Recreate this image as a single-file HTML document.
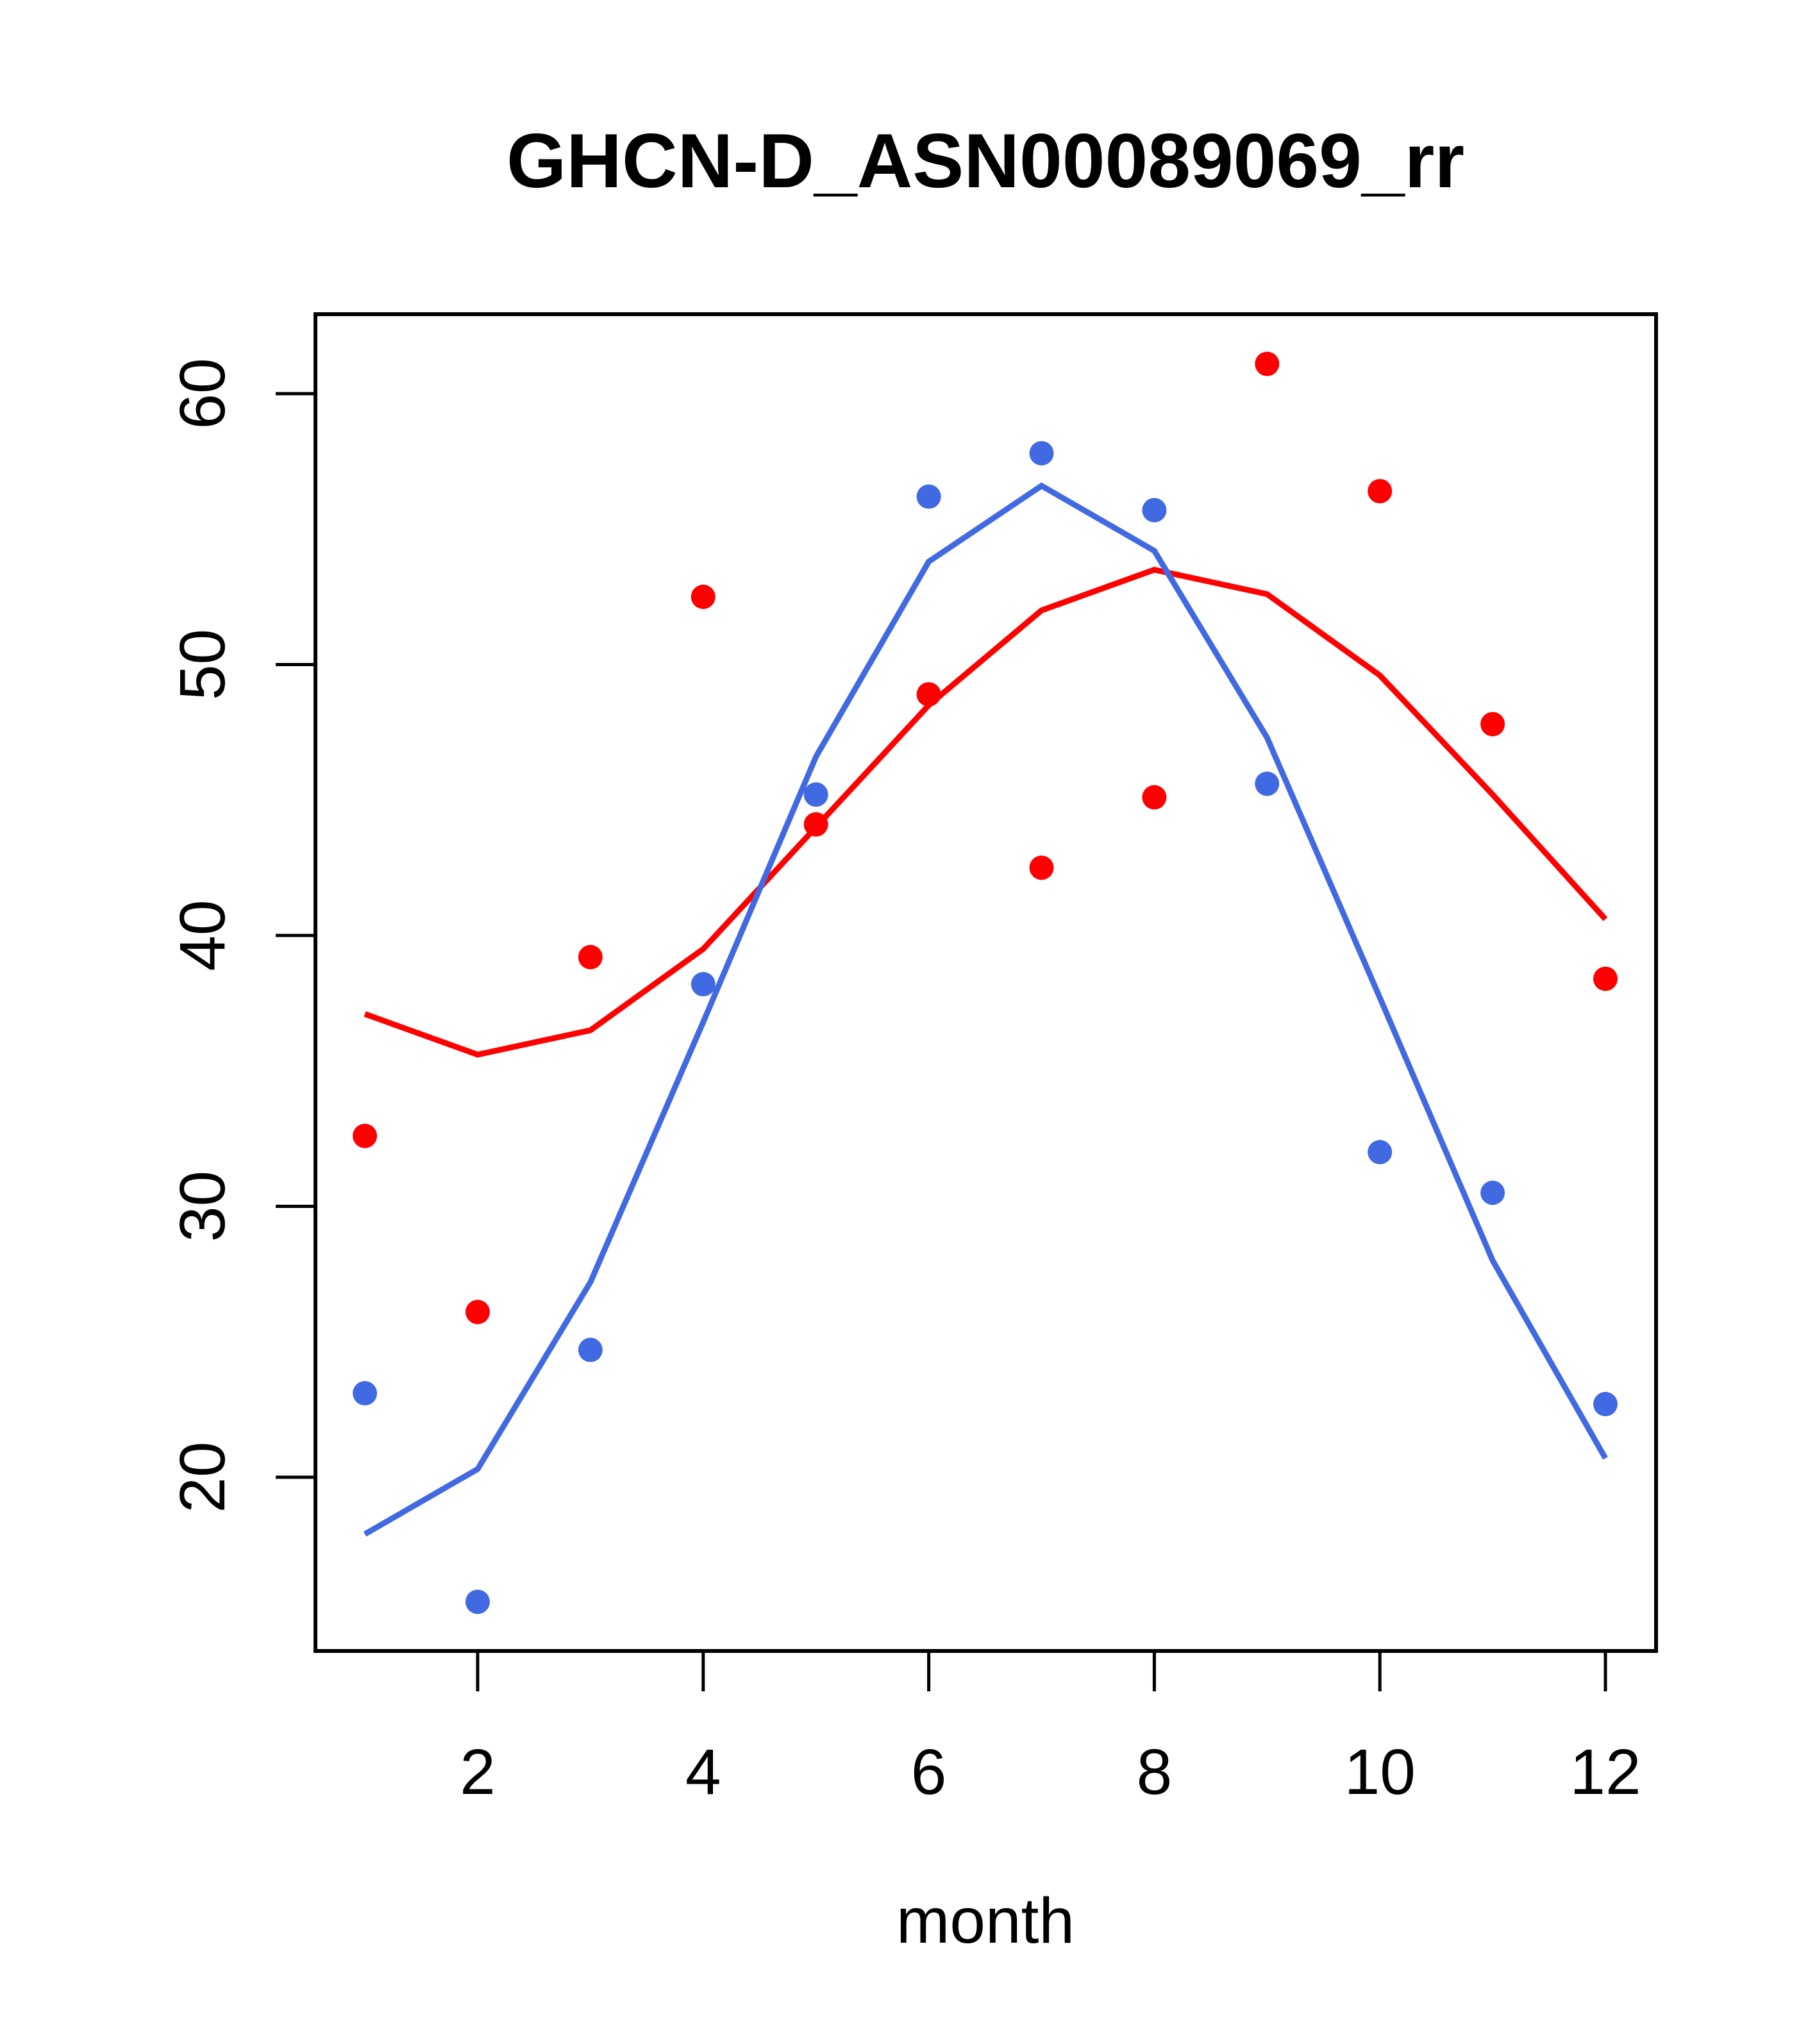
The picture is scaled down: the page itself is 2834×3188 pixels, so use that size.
<!DOCTYPE html>
<html><head><meta charset="utf-8"><style>body{margin:0;background:#fff}svg{display:block}</style></head>
<body>
<svg width="2834" height="3188" xmlns="http://www.w3.org/2000/svg" font-family="Liberation Sans, Arial, sans-serif">
<rect width="2834" height="3188" fill="#fff"/>
<text x="1537" y="292" font-size="120" font-weight="bold" text-anchor="middle">GHCN-D_ASN00089069_rr</text>
<rect x="492" y="490" width="2091" height="2085" fill="none" stroke="#000" stroke-width="6"/>
<text x="1537" y="3030" font-size="100" text-anchor="middle">month</text>
<g id="axes"></g>
<g id="marks"></g>
</svg>
<script>
const months = [1,2,3,4,5,6,7,8,9,10,11,12];
const redPoints = [32.6,26.1,39.2,52.5,44.1,48.9,42.5,45.1,61.1,56.4,47.8,38.4];
const redLine = [37.1,35.6,36.5,39.5,44.0,48.5,52.0,53.5,52.6,49.6,45.2,40.6];
const bluePoints = [23.1,15.4,24.7,38.2,45.2,56.2,57.8,55.7,45.6,32.0,30.5,22.7];
const blueLine = [17.9,20.3,27.2,36.8,46.6,53.8,56.6,54.2,47.3,37.7,28.0,20.7];
const xTicks = [2,4,6,8,10,12];
const yTicks = [20,30,40,50,60];

const NS = 'http://www.w3.org/2000/svg';
function X(m){ return 745 + (m-2)*175.9; }
function Y(v){ return 2304 - (v-20)*42.25; }
function mk(tag, attrs, parent){ const e=document.createElementNS(NS,tag); for(const k in attrs) e.setAttribute(k,attrs[k]); parent.appendChild(e); return e; }
const axes=document.getElementById('axes'), marks=document.getElementById('marks');
xTicks.forEach(t=>{
  const l=mk('line',{x1:X(t),x2:X(t),y1:2575,y2:2638,stroke:'#000','stroke-width':5},axes);
  
  
  const tx=mk('text',{x:X(t),y:2798,'font-size':100,'text-anchor':'middle'},axes);
  tx.textContent=t;
  
  
});
yTicks.forEach(t=>{
  const l=mk('line',{x1:430,x2:492,y1:Y(t),y2:Y(t),stroke:'#000','stroke-width':5},axes);
  
  
  const tx=mk('text',{x:0,y:0,'font-size':100,'text-anchor':'middle',transform:'translate(350,'+Y(t)+') rotate(-90)'},axes);
  tx.textContent=t;
  
  
});
function line(vals,color,name){
  const p=mk('polyline',{points:months.map((m,i)=>X(m)+','+Y(vals[i])).join(' '),fill:'none',stroke:color,'stroke-width':9},marks);
  
  
}
function pts(vals,color,name){
  months.forEach((m,i)=>{
    const c=mk('circle',{cx:X(m),cy:Y(vals[i]),r:19,fill:color},marks);
    
    
  });
}
line(redLine,'#ff0000','red-line');
line(blueLine,'#4169e1','blue-line');
pts(redPoints,'#ff0000','red-point');
pts(bluePoints,'#4169e1','blue-point');
</script>
</body></html>
